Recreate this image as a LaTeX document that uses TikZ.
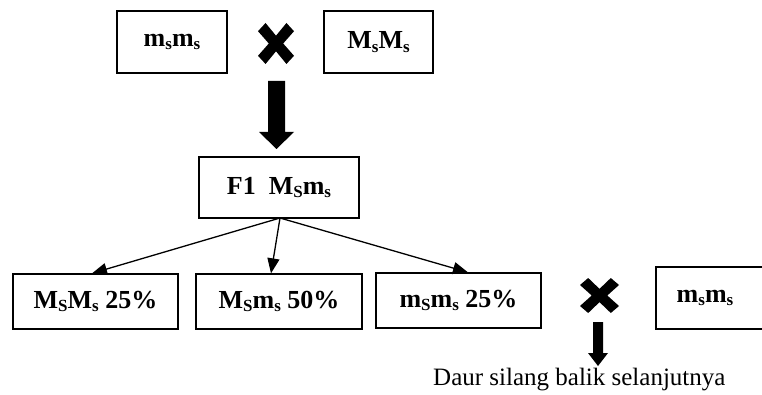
\documentclass[tikz,border=0pt]{standalone}
\usepackage{fontspec}
\setmainfont{Liberation Serif}
\usetikzlibrary{arrows.meta}
\newcommand{\sbs}[1]{\raisebox{-3.5pt}{\fontsize{17}{17}\selectfont #1}}
\tikzset{
  gbox/.style={draw=black, line width=1.3pt, minimum height=62pt, inner sep=0pt,
     font=\fontsize{26}{30}\selectfont\bfseries, anchor=center},
  conn/.style={line width=1.3pt, -{Triangle[length=15pt,width=12pt]}},
  blockarrow/.style={fill=black, draw=none},
  crossmark/.style={fill=black, draw=none}
}
\newcommand{\drawcross}[4]{% cx, cy, hw, hh
  \fill[crossmark, shift={(#1,#2)}, x=#3pt, y=-#4pt]
    (0,0.38) -- (0.58,1) -- (1,0.60) -- (0.40,0) -- (1,-0.60) -- (0.58,-1) --
    (0,-0.38) -- (-0.58,-1) -- (-1,-0.60) -- (-0.40,0) -- (-1,0.60) -- (-0.58,1) -- cycle;
}
\begin{document}
\begin{tikzpicture}[x=1pt,y=-1pt]
\useasboundingbox (0,0) rectangle (762,395);
% top row
\node[gbox, minimum width=110pt] (p1) at (172,42) {m\sbs{s}m\sbs{s}};
\node[gbox, minimum width=109pt] (p2) at (378.5,42) {M\sbs{s}M\sbs{s}};
\drawcross{276}{43.5}{18}{20.5}
% big block arrow
\fill[blockarrow] (268,81) -- (285,81) -- (285,132) -- (294,132) -- (276.5,149) -- (259,132) -- (268,132) -- cycle;
% F1
\node[gbox, minimum width=160pt, minimum height=61pt] (f1) at (279,187.5) {F1\ \ M\sbs{S}m\sbs{s}};
% offspring
\node[gbox, minimum width=165pt, minimum height=55pt] (a) at (95.5,301.5) {M\sbs{S}M\sbs{s} 25\%};
\node[gbox, minimum width=166pt, minimum height=55pt] (b) at (279,301.5) {M\sbs{S}m\sbs{s} 50\%};
\node[gbox, minimum width=165pt, minimum height=55pt] (c) at (458.5,300.5) {m\sbs{S}m\sbs{s} 25\%};
\coordinate (fs) at (280,218);
\draw[conn] (fs) -- ([xshift=-3.5pt]a.north);
\draw[conn] (fs) -- ([xshift=-8pt]b.north);
\draw[conn] (fs) -- ([xshift=9.5pt]c.north);
% backcross
\drawcross{599.5}{295.5}{19.5}{17.5}
\fill[blockarrow] (593,322) -- (603,322) -- (603,353) -- (608,353) -- (598,366) -- (588,353) -- (593,353) -- cycle;
\draw[line width=1.3pt] (764,267) -- (656,267) -- (656,329) -- (764,329);
\node[font=\fontsize{26}{30}\selectfont\bfseries, inner sep=0pt] (d) at (705,298) {m\sbs{s}m\sbs{s}};
\node[font=\fontsize{25}{30}\selectfont, inner sep=0pt, anchor=base west] (t) at (433,385) {Daur silang balik selanjutnya};
\end{tikzpicture}
\end{document}
